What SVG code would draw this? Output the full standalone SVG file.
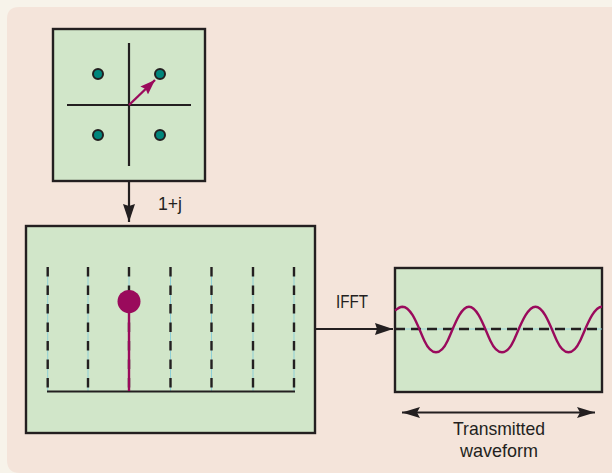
<svg xmlns="http://www.w3.org/2000/svg" width="612" height="473" viewBox="0 0 612 473">
<defs>
<style>
.box{fill:#d1e6c9;stroke:#231f20;stroke-width:2.4}
.ln{stroke:#231f20;stroke-width:2.2;fill:none}
.dash{stroke:#231f20;stroke-width:2.4;stroke-dasharray:9.5 9;fill:none}
.blue{stroke:#8ecfd6;stroke-width:1;fill:none}
.dot{fill:#00867c;stroke:#231f20;stroke-width:2}
.pur{stroke:#9a0a5c;fill:none;stroke-width:2.4}
.txt{font-family:"Liberation Sans",Arial,sans-serif;font-size:19px;fill:#231f20}
</style>
<marker id="ah" viewBox="0 0 18 12" refX="18" refY="6" markerWidth="18" markerHeight="12" markerUnits="userSpaceOnUse" orient="auto-start-reverse">
<path d="M0,0 L18,6 L0,12 L2,6 Z" fill="#231f20"/>
</marker>
<marker id="ahb" viewBox="0 0 18 11" refX="18" refY="5.5" markerWidth="18" markerHeight="11" markerUnits="userSpaceOnUse" orient="auto-start-reverse">
<path d="M0,0 L18,5.5 L0,11 L3,5.5 Z" fill="#231f20"/>
</marker>
<marker id="ap" viewBox="0 0 15 11" refX="15" refY="5.5" markerWidth="15" markerHeight="11" markerUnits="userSpaceOnUse" orient="auto">
<path d="M0,0 L15,5.5 L0,11 L2,5.5 Z" fill="#9a0a5c"/>
</marker>
</defs>
<rect x="0" y="0" width="612" height="473" fill="#f7f3ea"/>
<path d="M19,7 H612 V473 H7 V19 Q7,7 19,7 Z" fill="#f4e4da"/>
<path d="M7,460 Q7,473 20,473 H7 Z" fill="#f7f3ea"/>

<g id="constellation">
<rect class="box" x="53" y="29" width="152" height="152"/>
<line class="ln" x1="129" y1="43" x2="129" y2="166"/>
<line class="ln" x1="67" y1="105" x2="191" y2="105"/>
<circle class="dot" cx="98" cy="74" r="5"/>
<circle class="dot" cx="160" cy="74" r="5"/>
<circle class="dot" cx="98" cy="135" r="5"/>
<circle class="dot" cx="160" cy="135" r="5"/>
<line class="pur" x1="129" y1="105" x2="155" y2="80" marker-end="url(#ap)"/>
</g>

<g id="spectrum">
<rect class="box" x="26" y="226" width="289" height="207"/>
<g>
<line class="blue" x1="47.7" y1="267" x2="47.7" y2="391"/>
<line class="blue" x1="88" y1="267" x2="88" y2="391"/>
<line class="blue" x1="129" y1="267" x2="129" y2="391"/>
<line class="blue" x1="170.5" y1="267" x2="170.5" y2="391"/>
<line class="blue" x1="211.5" y1="267" x2="211.5" y2="391"/>
<line class="blue" x1="253" y1="267" x2="253" y2="391"/>
<line class="blue" x1="294" y1="267" x2="294" y2="391"/>
<line class="dash" x1="47.7" y1="267" x2="47.7" y2="391"/>
<line class="dash" x1="88" y1="267" x2="88" y2="391"/>
<line class="dash" x1="129" y1="267" x2="129" y2="391"/>
<line class="dash" x1="170.5" y1="267" x2="170.5" y2="391"/>
<line class="dash" x1="211.5" y1="267" x2="211.5" y2="391"/>
<line class="dash" x1="253" y1="267" x2="253" y2="391"/>
<line class="dash" x1="294" y1="267" x2="294" y2="391"/>
</g>
<line class="ln" x1="47" y1="391.5" x2="295" y2="391.5"/>
<line class="pur" x1="129" y1="301" x2="129" y2="391"/>
<circle cx="129" cy="301.5" r="11.5" fill="#9a0a5c"/>
</g>

<g id="waveform">
<rect class="box" x="395" y="268" width="207" height="124"/>
<line class="blue" x1="395" y1="329" x2="602" y2="329"/>
<line class="dash" x1="395" y1="329" x2="602" y2="329" style="stroke-dasharray:10 6"/>
<path class="pur" d="M395,310.6 C398,308 400,306.8 402.5,306.7 C412,306.7 419,329.5 424.5,341 C428,348.5 431.5,352.3 436,352.3 C440.5,352.3 444,348.5 447.5,341 C453,329.5 460,306.7 469,306.7 C478,306.7 485,329.5 490.5,341 C494,348.5 497.5,352.3 502,352.3 C506.5,352.3 510,348.5 513.5,341 C519,329.5 526.5,306.7 535.5,306.7 C544.5,306.7 551.5,329.5 557,341 C560.5,348.5 564,352.3 568.5,352.3 C573,352.3 576.5,348.5 580,341 C585.5,329.5 593,306.7 602,306.7"/>
</g>

<g id="connectors">
<line class="ln" x1="129" y1="181" x2="129" y2="222" marker-end="url(#ah)"/>
<line class="ln" x1="315" y1="329" x2="393" y2="329" marker-end="url(#ah)"/>
<line class="ln" x1="402" y1="412.5" x2="595" y2="412.5" marker-start="url(#ahb)" marker-end="url(#ahb)"/>
</g>

<g id="labels">
<text class="txt" x="158" y="210" textLength="24" lengthAdjust="spacingAndGlyphs">1+j</text>
<text class="txt" x="336" y="308" textLength="32" lengthAdjust="spacingAndGlyphs">IFFT</text>
<text class="txt" x="499" y="435" text-anchor="middle" textLength="92" lengthAdjust="spacingAndGlyphs">Transmitted</text>
<text class="txt" x="499" y="457" text-anchor="middle" textLength="78" lengthAdjust="spacingAndGlyphs">waveform</text>
</g>
</svg>
